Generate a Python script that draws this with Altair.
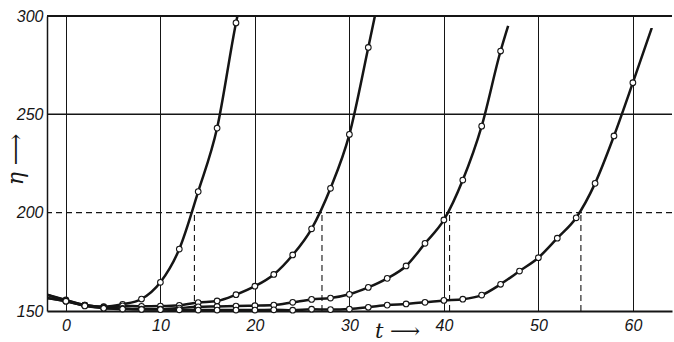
import altair as alt
import pandas as pd

# ---- data ----
c1_t = [0, 2, 4, 6, 8, 10, 12, 14, 16, 18]
c1_eta = [155.6, 153.0, 152.2, 153.4, 156.1, 164.6, 181.5, 210.7, 243.0, 296.5]

c2_t = [0, 2, 4, 6, 8, 10, 12, 14, 16, 18, 20, 22, 24, 26, 28, 30, 32]
c2_eta = [155.3, 153.0, 152.0, 152.6, 152.4, 152.5, 152.9, 154.3, 155.1, 158.3,
          162.6, 168.6, 178.5, 191.8, 212.4, 239.8, 284.0]

c3_t = [0, 2, 4, 6, 8, 10, 12, 14, 16, 18, 20, 22, 24, 26, 28, 30, 32, 34, 36,
        38, 40, 42, 44, 46]
c3_eta = [155.0, 152.8, 151.6, 151.3, 151.0, 150.9, 151.5, 152.1, 152.3, 152.5,
          152.7, 153.0, 154.4, 155.9, 156.6, 158.5, 162.0, 166.6, 172.9, 184.4,
          196.3, 216.6, 244.0, 282.2]

c4_t = [0, 2, 4, 6, 8, 10, 12, 14, 16, 18, 20, 22, 24, 26, 28, 30, 32, 34, 36,
        38, 40, 42, 44, 46, 48, 50, 52, 54, 56, 58, 60]
c4_eta = [155.0, 152.6, 151.4, 151.0, 150.8, 150.7, 150.6, 150.5, 150.5, 150.5,
          150.5, 150.6, 150.4, 150.9, 150.7, 151.0, 151.9, 153.0, 153.6, 154.4,
          155.4, 156.0, 158.1, 163.6, 170.3, 177.1, 187.0, 197.4, 214.9, 239.0,
          266.1]

# curve start (left edge) and end points
start_t = [-2, -2, -2, -2]
start_eta = [158.3, 158.3, 156.6, 156.6]
end_t = [18.15, 32.7, 46.8, 62.0]
end_eta = [300.0, 300.0, 295.0, 294.0]

# crossings of eta = 200
cross_t = [13.6, 27.1, 40.6, 54.5]

x_ticks = [0, 10, 20, 30, 40, 50, 60]
y_ticks = [150, 200, 250, 300]
solid_h = [250, 300]
solid_h_w = [1.5, 2.0]
dashed_h = [200]

# ---- tables ----
pts, lines = [], []
series = [(c1_t, c1_eta), (c2_t, c2_eta), (c3_t, c3_eta), (c4_t, c4_eta)]
for i, (ts, es) in enumerate(series):
    name = f"c{i+1}"
    lines.append(dict(curve=name, t=start_t[i], eta=start_eta[i], o=0))
    for k, (t, e) in enumerate(zip(ts, es)):
        pts.append(dict(curve=name, t=t, eta=e))
        lines.append(dict(curve=name, t=t, eta=e, o=k + 1))
    lines.append(dict(curve=name, t=end_t[i], eta=end_eta[i], o=len(ts) + 1))
pts_df = pd.DataFrame(pts)
lines_df = pd.DataFrame(lines)

INK = "#151515"
FONT = "Liberation Sans"

xscale = alt.Scale(domain=[-2, 64.14], nice=False, zero=False)
yscale = alt.Scale(domain=[150, 300], nice=False, zero=False)

xaxis = alt.Axis(values=x_ticks, grid=True, gridColor=INK, gridWidth=1, gridOpacity=1,
                 domain=True, domainColor=INK, domainWidth=2, ticks=False,
                 labelFont=FONT, labelFontStyle="italic", labelFontSize=16,
                 labelColor=INK, labelPadding=6,
                 title="t ⟶", titleFont="DejaVu Serif", titleFontStyle="italic",
                 titleFontWeight="normal", titleFontSize=21, titleColor=INK,
                 titleX=350, titleY=26, titleBaseline="alphabetic", titleAlign="center")
yaxis = alt.Axis(values=y_ticks, grid=False, domain=True, domainColor=INK,
                 domainWidth=1.5, ticks=False,
                 labelFont=FONT, labelFontStyle="italic", labelFontSize=16,
                 labelColor=INK, labelPadding=4,
                 title="η ⟶", titleFont="DejaVu Serif", titleFontStyle="italic",
                 titleFontWeight="normal", titleFontSize=22, titleColor=INK,
                 titleX=-25, titleY=143, titleBaseline="alphabetic",
                 titleAlign="center", titleAngle=270)

base_lines = alt.Chart(lines_df).mark_line(
    color=INK, strokeWidth=2.5, interpolate="monotone", clip=True
).encode(
    x=alt.X("t:Q", scale=xscale, axis=xaxis),
    y=alt.Y("eta:Q", scale=yscale, axis=yaxis),
    detail="curve:N",
    order="o:Q",
)

hsolid = alt.Chart(pd.DataFrame({"y": solid_h, "w": solid_h_w})).mark_rule(color=INK).encode(
    y=alt.Y("y:Q", scale=yscale),
    strokeWidth=alt.StrokeWidth("w:Q", scale=None, legend=None),
)

hdash = alt.Chart(pd.DataFrame({"y": dashed_h})).mark_rule(
    color=INK, strokeWidth=1.1, strokeDash=[6, 4]
).encode(y=alt.Y("y:Q", scale=yscale))

vdash = alt.Chart(pd.DataFrame({"t": cross_t, "y0": [150] * 4, "y1": [200] * 4})).mark_rule(
    color=INK, strokeWidth=1.1, strokeDash=[6, 4]
).encode(
    x=alt.X("t:Q", scale=xscale),
    y=alt.Y("y0:Q", scale=yscale),
    y2="y1:Q",
)

points = alt.Chart(pts_df).mark_point(
    shape="circle", filled=True, fill="white", stroke=INK, strokeWidth=1.1,
    size=32, opacity=1, clip=False
).encode(
    x=alt.X("t:Q", scale=xscale),
    y=alt.Y("eta:Q", scale=yscale),
)

chart = alt.layer(base_lines, hsolid, hdash, vdash, points).properties(
    width=625, height=295,
    autosize=alt.AutoSizeParams(type="none"),
    padding={"left": 47, "top": 16, "right": 2, "bottom": 31},
    background="white",
).configure_view(stroke=None)

chart.save("out.html", embed_options={"renderer": "svg", "actions": False})
